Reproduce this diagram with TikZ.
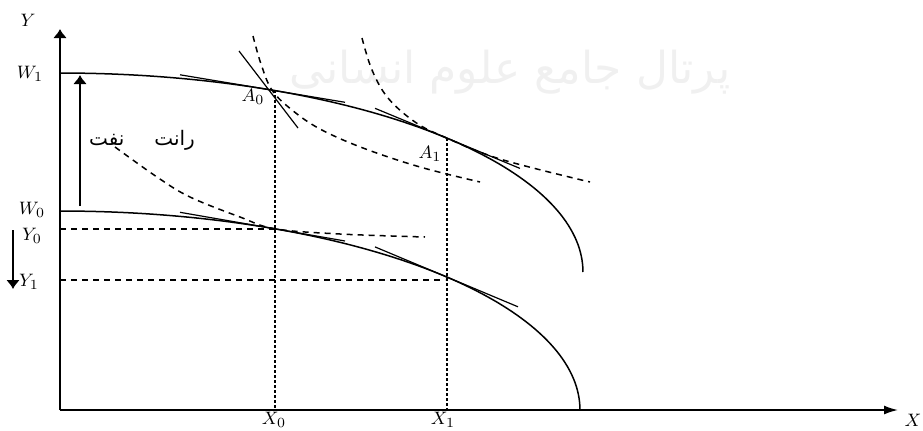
\documentclass[tikz,border=0pt]{standalone}
\usepackage{fontspec}
\setmainfont{Liberation Serif}
\newfontfamily\arabicfont[Script=Arabic]{DejaVu Sans}
\TeXXeTstate=1
\usetikzlibrary{arrows.meta}
\begin{document}
\begin{tikzpicture}[x=0.5pt,y=-0.5pt,
  curve/.style={line width=0.75pt},
  tang/.style={line width=0.6pt},
  dashc/.style={line width=0.75pt, dash pattern=on 3pt off 2.5pt},
  dotl/.style={line width=1.3pt, dash pattern=on 1.5pt off 1pt},
  vaxis/.style={line width=1.1pt,-{Latex[length=4.5pt,width=7pt]}},
  haxis/.style={line width=0.8pt,-{Latex[length=7pt,width=4.5pt]}},
  lab/.style={font=\fontsize{9.5}{10}\selectfont, inner sep=0pt},
  fa/.style={font=\arabicfont\fontsize{10}{11}\selectfont, inner sep=0pt},
  wm/.style={font=\arabicfont\fontsize{22}{24}\selectfont, text=black!6, inner sep=0pt}]
\useasboundingbox (0,0) rectangle (923,430);
% watermark
\node[wm] (wmark) at (510,72) {\beginR پرتال جامع علوم انسانی\endR};
% axes
\coordinate (O) at (60,410);
\coordinate (Ytop) at (60,29);
\coordinate (Xend) at (898,410);
\draw[vaxis] (O) -- (Ytop);
\draw[haxis] (O) -- (Xend);
% production possibility curves (quarter ellipses)
\draw[curve] plot[domain=90:0, samples=80, variable=\t] ({60+523*cos(\t)},{272-199*sin(\t)});
\draw[curve] plot[domain=90:0, samples=80, variable=\t] ({60+520*cos(\t)},{410-199*sin(\t)});
% key points
\coordinate (A0) at (272,90.1);
\coordinate (A1) at (445,137.3);
\coordinate (B0) at (275,228.8);
\coordinate (B1) at (445,276.2);
% tangents
\coordinate (t1a) at (180,74.8); \coordinate (t1b) at (345,102.3);
\draw[tang] (t1a) -- (t1b);
\coordinate (t2a) at (239,51); \coordinate (t2b) at (298,128);
\draw[tang] (t2a) -- (t2b);
\coordinate (t3a) at (375,108.3); \coordinate (t3b) at (520,168.4);
\draw[tang] (t3a) -- (t3b);
\coordinate (t4a) at (180,212.3); \coordinate (t4b) at (345,241);
\draw[tang] (t4a) -- (t4b);
\coordinate (t5a) at (375,246.9); \coordinate (t5b) at (518,306.8);
\draw[tang] (t5a) -- (t5b);
% indifference curves (dashed)
\draw[dashc] plot[smooth, tension=0.6] coordinates {(253,36) (261,64) (A0) (292,110) (320,129) (363,148) (420,167) (480,182)};
\draw[dashc] plot[smooth, tension=0.6] coordinates {(362,38) (372,70) (388,98) (415,122) (A1) (500,159) (590,182)};
\draw[dashc] plot[smooth, tension=0.6] coordinates {(115,147) (157,177) (190,197) (240,217) (B0) (340,234) (425,237)};
% reference dashed lines
\coordinate (Y0l) at (60,229); \coordinate (Y0r) at (275,229);
\draw[dashc] (Y0l) -- (Y0r);
\coordinate (Y1l) at (60,280); \coordinate (Y1r) at (445,280);
\draw[dashc] (Y1l) -- (Y1r);
% vertical dotted lines
\coordinate (X0t) at (275,90); \coordinate (X0b) at (275,410);
\draw[dotl] (X0t) -- (X0b);
\coordinate (X1t) at (447,138); \coordinate (X1b) at (447,410);
\draw[dotl] (X1t) -- (X1b);
% rent arrow and down arrow
\coordinate (ra) at (80,206); \coordinate (rb) at (80,75);
\draw[vaxis] (ra) -- (rb);
\coordinate (da) at (13,230); \coordinate (db) at (13,289);
\draw[vaxis] (da) -- (db);
% labels
\node[lab] (lY) at (28,20) {$Y$};
\node[lab] (lW1) at (30,74) {$W_1$};
\node[lab] (lW0) at (32,210) {$W_0$};
\node[lab] (lY0) at (32,236) {$Y_0$};
\node[lab] (lY1) at (29,282) {$Y_1$};
\node[lab] (lA0) at (253,97) {$A_0$};
\node[lab] (lA1) at (430,154) {$A_1$};
\node[lab] (lX0) at (274,420) {$X_0$};
\node[lab] (lX1) at (443,420) {$X_1$};
\node[lab] (lX) at (913,420) {$X$};
\node[fa] (rent) at (142,140) {\beginR رانت\hspace{1.5em}نفت\endR};
\end{tikzpicture}
\end{document}
